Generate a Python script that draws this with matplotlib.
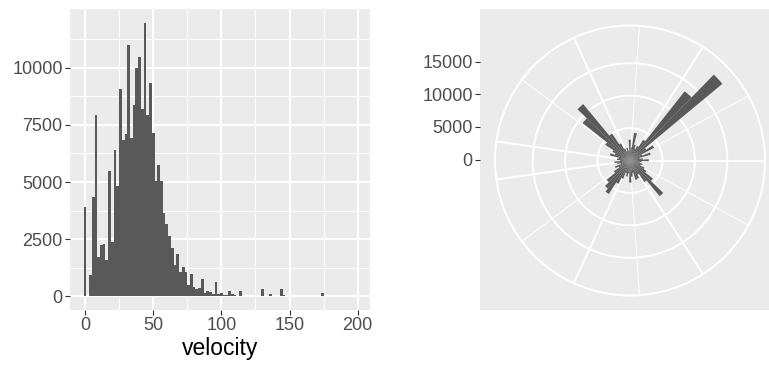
import numpy as np
import matplotlib
matplotlib.use("Agg")
import matplotlib.pyplot as plt

plt.rcParams['font.family'] = ['Liberation Sans', 'DejaVu Sans']

# ---------------- data ----------------
# velocity histogram: bins of width 2 centred on 0, 2, 4, ... 198
velocity_binwidth = 2
velocity_counts = [
    3900, 0, 930, 4335, 7930, 1700, 2230, 2290, 1580, 5490,
    2380, 6400, 4840, 9070, 6840, 7090, 11000, 6940, 8390, 9990,
    10450, 8200, 11970, 7950, 9330, 7160, 5060, 5750, 5060, 3640,
    3170, 2640, 2100, 1350, 1850, 1050, 1270, 1050, 500, 970,
    420, 330, 350, 750, 150, 250, 200, 80, 610, 90,
    150, 50, 60, 220, 100, 50, 20, 250, 0, 0,
    0, 0, 0, 0, 0, 300, 30, 0, 100, 0,
    0, 0, 330, 40, 0, 0, 0, 0, 0, 0,
    0, 0, 0, 0, 0, 0, 0, 150, 30, 0,
    0, 0, 0, 0, 0, 0, 0, 0, 0, 5,
]
velocity_xticks = [0, 50, 100, 150, 200]
velocity_yticks = [0, 2500, 5000, 7500, 10000]

# direction histogram (radians, -pi..pi), bins of 6 degrees
direction_binwidth_deg = 6.0
direction_first_center_deg = -174.7
direction_counts = [
    2000, 1800, 3200, 2500, 3000, 4500, 9300, 11300, 5000, 3000,
    2000, 1500, 2000, 1500, 3200, 2000, 4300, 2500, 2000, 2500,
    3800, 13600, 18500, 3000, 4200, 2000, 3300, 1500, 2000, 2900,
    1800, 1500, 2000, 1800, 2500, 3000, 4500, 7150, 4000, 2500,
    3000, 3100, 2000, 2500, 3400, 2000, 2500, 2000, 3000, 4000,
    6100, 5500, 4650, 3000, 2000, 2500, 1500, 2000, 2400, 1500,
]
direction_rticks = [0, 5000, 10000, 15000]
direction_major_breaks = [-3, -2, -1, 0, 1, 2, 3]
direction_minor_breaks = [-2.5, -1.5, -0.5, 0.5, 1.5, 2.5]

# ---------------- style ----------------
BG = '#EBEBEB'
BAR = '#595959'
TICKC = '#333333'
LABC = '#4D4D4D'
FS_TICK = 13
FS_TITLE = 16.5
MAJ_LW = 1.4
MIN_LW = 0.7

W, H = 769, 367
fig = plt.figure(figsize=(W / 100, H / 100), dpi=100)
fig.patch.set_facecolor('white')

def frac(x0, y0_top, w, h):
    return [x0 / W, (H - y0_top - h) / H, w / W, h / H]

# ---------------- left: histogram ----------------
ax = fig.add_axes(frac(70, 9, 300, 301))
ax.set_facecolor(BG)
vc = np.array(velocity_counts, dtype=float)
centers = np.arange(len(vc)) * velocity_binwidth
ax.bar(centers, vc, width=velocity_binwidth, color=BAR, linewidth=0, zorder=3)
lo = centers[0] - velocity_binwidth / 2
hi = centers[-1] + velocity_binwidth / 2
span = hi - lo
ax.set_xlim(lo - 0.05 * span, hi + 0.05 * span)
ymax = vc.max()
ax.set_ylim(-0.05 * ymax, 1.05 * ymax)
ax.set_xticks(velocity_xticks)
ax.set_xticks([25, 75, 125, 175], minor=True)
ax.set_yticks(velocity_yticks)
ax.set_yticks([1250, 3750, 6250, 8750, 11250], minor=True)
ax.grid(which='major', color='white', linewidth=MAJ_LW, zorder=1)
ax.grid(which='minor', color='white', linewidth=MIN_LW, zorder=1)
ax.set_axisbelow(True)
for s in ax.spines.values():
    s.set_visible(False)
ax.tick_params(which='major', length=3.3, width=0.8, color=TICKC,
               labelcolor=LABC, labelsize=FS_TICK, pad=2)
ax.tick_params(which='minor', length=0)
ax.set_xlabel('velocity', fontsize=FS_TITLE, color='black', labelpad=2)

# ---------------- right: polar ----------------
dc = np.array(direction_counts, dtype=float)
rmax = dc.max()

bg = fig.add_axes(frac(480, 9, 300, 301))
bg.set_facecolor(BG)
R = 1.25 * rmax
bg.set_xlim(-R, R)
bg.set_ylim(-R, R)
bg.set_xticks([])
bg.set_yticks(direction_rticks)
bg.set_yticklabels([str(t) for t in direction_rticks])
for s in bg.spines.values():
    s.set_visible(False)
bg.tick_params(axis='y', length=3.3, width=0.8, color=TICKC,
               labelcolor=LABC, labelsize=FS_TICK, pad=2)

cx, cy_top = 630, 160.5
rad_px = 135
pax = fig.add_axes(frac(cx - rad_px, cy_top - rad_px, 2 * rad_px, 2 * rad_px),
                   projection='polar')
pax.set_facecolor('none')
pax.set_theta_zero_location('E')
pax.set_theta_direction(-1)
theta = np.deg2rad(direction_first_center_deg
                   + direction_binwidth_deg * np.arange(len(dc)))
pax.bar(theta, dc, width=np.deg2rad(direction_binwidth_deg), color=BAR,
        linewidth=0, zorder=3)
pax.set_xticks(direction_major_breaks)
pax.set_xticks(direction_minor_breaks, minor=True)
pax.set_xticklabels([])
pax.set_xticklabels([], minor=True)
pax.set_xlim(-np.pi, np.pi)
pax.set_ylim(0, 1.125 * rmax)
pax.set_yticks(direction_rticks[1:])
pax.set_yticklabels([])
pax.tick_params(which='both', length=0)
pax.grid(which='major', color='white', linewidth=MAJ_LW)
pax.xaxis.grid(True, which='minor', color='white', linewidth=MIN_LW)
pax.set_axisbelow(True)
pax.spines['polar'].set_color('white')
pax.spines['polar'].set_linewidth(MAJ_LW)
pax.spines['start'].set_visible(False)
pax.spines['end'].set_visible(False)
pax.spines['inner'].set_visible(False)

fig.savefig('out.png', dpi=100, facecolor='white')
